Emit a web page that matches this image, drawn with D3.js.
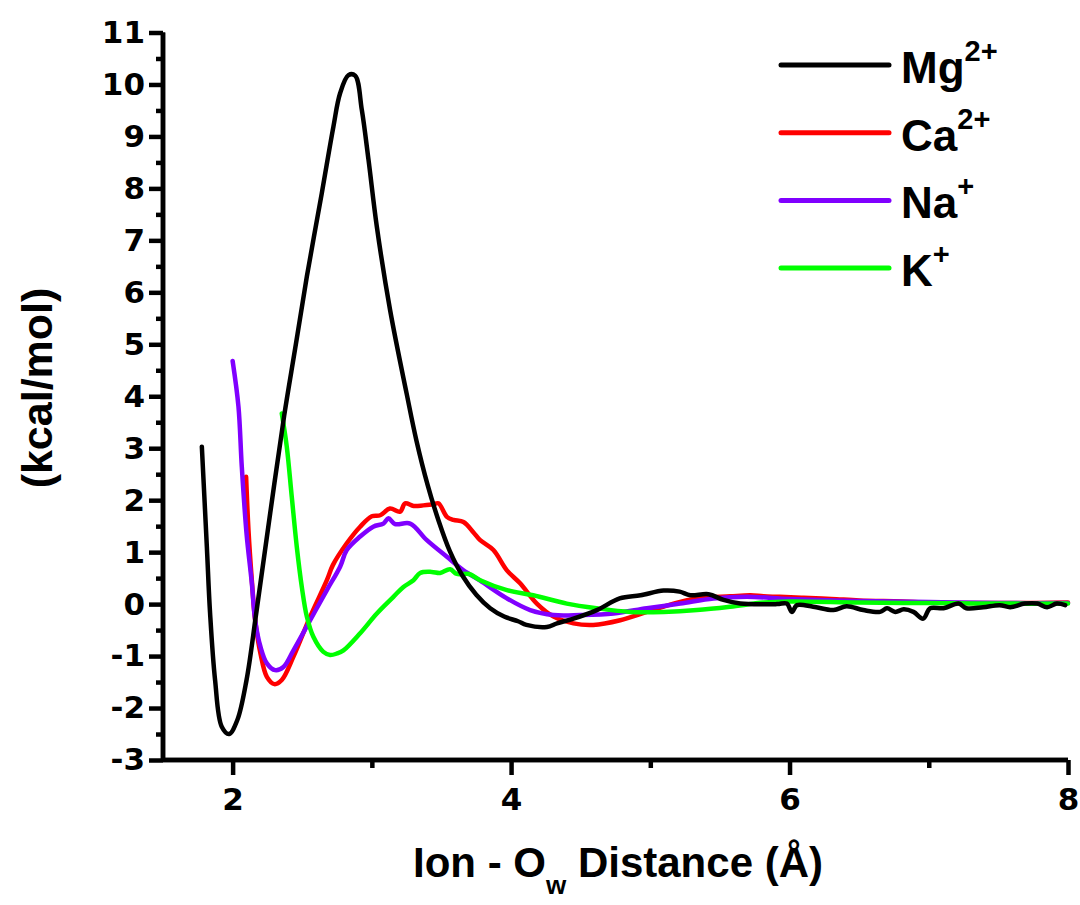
<!DOCTYPE html>
<html>
<head>
<meta charset="utf-8">
<script src="https://cdn.jsdelivr.net/npm/d3@7"></script>
<style>
  body { margin: 0; background: #fff; }
  text { font-family: "Liberation Sans", Arial, sans-serif; font-weight: bold; fill: #000; }
  .curve { fill: none; stroke-width: 4.5; stroke-linejoin: round; stroke-linecap: round; }
</style>
</head>
<body>
<div id="box"></div>
<script>
// ion - water oxygen free energy profiles (kcal/mol)
const mg = [
  [1.779, 3.03], [1.815, 1.10], [1.838, -0.17], [1.874, -1.46], [1.922, -2.36], [1.975, -2.50],
  [2.034, -2.23], [2.10, -1.46], [2.17, -0.17], [2.27, 1.75], [2.37, 3.62], [2.45, 4.93],
  [2.533, 6.30], [2.64, 7.90], [2.724, 9.19], [2.772, 9.83], [2.832, 10.18], [2.88, 10.17],
  [2.928, 9.51], [2.976, 8.55], [3.036, 7.26], [3.131, 5.66], [3.25, 4.05], [3.32, 3.15],
  [3.40, 2.30], [3.48, 1.60], [3.56, 1.02], [3.65, 0.55], [3.75, 0.18], [3.85, -0.08],
  [3.95, -0.24], [4.05, -0.33], [4.11, -0.40], [4.257, -0.44], [4.33, -0.37], [4.448, -0.28],
  [4.616, -0.115], [4.78, 0.11], [4.93, 0.17], [5.095, 0.26], [5.21, 0.24], [5.287, 0.17],
  [5.418, 0.19], [5.526, 0.08], [5.646, 0.01], [5.91, 0.0], [5.98, 0.01], [6.017, -0.15],
  [6.053, -0.02], [6.17, -0.05], [6.316, -0.115], [6.41, -0.04], [6.53, -0.115], [6.65, -0.15],
  [6.70, -0.08], [6.76, -0.15], [6.82, -0.10], [6.89, -0.15], [6.96, -0.28], [7.01, -0.08],
  [7.106, -0.08], [7.214, 0.01], [7.27, -0.08], [7.39, -0.06], [7.51, -0.02], [7.585, -0.06],
  [7.69, 0.01], [7.78, 0.01], [7.85, -0.06], [7.92, 0.01], [7.98, -0.02]
];
const ca = [
  [2.097, 2.45], [2.114, 1.42], [2.138, 0.46], [2.162, -0.31], [2.20, -0.95], [2.246, -1.40],
  [2.30, -1.54], [2.353, -1.46], [2.437, -1.01], [2.557, -0.24], [2.677, 0.46], [2.72, 0.75],
  [2.82, 1.17], [2.916, 1.49], [3.0, 1.69], [3.06, 1.71], [3.13, 1.84], [3.203, 1.78],
  [3.239, 1.94], [3.30, 1.89], [3.37, 1.90], [3.443, 1.92], [3.478, 1.94], [3.539, 1.68],
  [3.586, 1.62], [3.658, 1.58], [3.73, 1.38], [3.778, 1.23], [3.873, 1.04], [3.97, 0.65],
  [4.065, 0.40], [4.185, 0.01], [4.305, -0.24], [4.448, -0.37], [4.59, -0.40], [4.784, -0.31],
  [4.975, -0.15], [5.167, 0.01], [5.335, 0.11], [5.574, 0.15], [5.72, 0.17], [5.813, 0.15],
  [5.93, 0.14], [6.1, 0.12], [6.3, 0.10], [6.5, 0.07], [6.8, 0.05], [7.0, 0.03], [7.3, 0.02],
  [7.6, 0.02], [8.0, 0.03]
];
const na = [
  [2.0, 4.68], [2.042, 3.80], [2.066, 2.64], [2.10, 1.36], [2.138, 0.40], [2.162, -0.31],
  [2.20, -0.82], [2.246, -1.14], [2.305, -1.27], [2.365, -1.21], [2.437, -0.89], [2.557, -0.31],
  [2.677, 0.27], [2.772, 0.72], [2.82, 1.04], [2.916, 1.30], [3.01, 1.49], [3.083, 1.55],
  [3.119, 1.65], [3.167, 1.54], [3.275, 1.55], [3.395, 1.23], [3.539, 0.91], [3.658, 0.65],
  [3.778, 0.45], [3.97, 0.11], [4.137, -0.115], [4.305, -0.21], [4.496, -0.21], [4.736, -0.18],
  [4.975, -0.08], [5.215, 0.01], [5.454, 0.11], [5.694, 0.14], [6.0, 0.10], [6.5, 0.06],
  [7.0, 0.04], [7.5, 0.02], [8.0, 0.02]
];
const k = [
  [2.353, 3.67], [2.389, 3.03], [2.425, 2.06], [2.461, 1.10], [2.497, 0.33], [2.533, -0.24],
  [2.58, -0.63], [2.652, -0.92], [2.70, -0.98], [2.75, -0.95], [2.796, -0.89], [2.916, -0.56],
  [3.036, -0.18], [3.155, 0.14], [3.227, 0.33], [3.299, 0.46], [3.347, 0.60], [3.43, 0.62],
  [3.49, 0.60], [3.562, 0.67], [3.61, 0.58], [3.70, 0.58], [3.778, 0.46], [3.97, 0.27],
  [4.16, 0.17], [4.40, 0.01], [4.616, -0.08], [4.856, -0.15], [5.095, -0.15], [5.335, -0.115],
  [5.574, -0.05], [5.813, 0.03], [6.0, 0.05], [6.5, 0.03], [7.0, 0.02], [7.5, 0.01], [8.0, 0.01]
];

const ions = ['Mg', 'Ca', 'Na', 'K'];
const charges = ['2+', '2+', '+', '+'];
const colors = ['#000000', '#ff0000', '#8000ff', '#00ff00'];
const series = [mg, ca, na, k];

const xMajor = [2, 4, 6, 8];
const xMinor = [3, 5, 7];
const yMajor = d3.range(-3, 12, 1);
const yMinor = d3.range(-2.5, 11, 1);

const W = 1080, H = 905;
const plotL = 163, plotR = 1068, plotT = 32.5, plotB = 760;

const svg = d3.select('#box').append('svg')
    .attr('width', W)
    .attr('height', H);

const x = d3.scaleLinear().domain([1.5, 8]).range([plotL, plotR]);
const y = d3.scaleLinear().domain([-3, 11]).range([plotB, plotT]);

// curves, Mg on top
const line = d3.line()
    .x(d => x(d[0]))
    .y(d => y(d[1]))
    .curve(d3.curveCatmullRom.alpha(0.5));

[1, 2, 3, 0].forEach(i => {
  svg.append('path')
    .datum(series[i])
    .attr('class', 'curve')
    .attr('stroke', colors[i])
    .attr('d', line);
});

// axes (plain hyphen for negatives, like the original)
const fmt = d => String(d);

const yAxis = svg.append('g')
    .attr('class', 'y-axis')
    .attr('transform', `translate(${plotL},0)`)
    .call(d3.axisLeft(y).tickValues(yMajor).tickSize(14).tickPadding(4).tickFormat(fmt));
yAxis.append('g')
    .call(d3.axisLeft(y).tickValues(yMinor).tickSize(7).tickFormat(''));

const xAxis = svg.append('g')
    .attr('class', 'x-axis')
    .attr('transform', `translate(0,${plotB})`)
    .call(d3.axisBottom(x).tickValues(xMajor).tickSize(15).tickPadding(13).tickFormat(fmt));
xAxis.append('g')
    .call(d3.axisBottom(x).tickValues(xMinor).tickSize(8).tickFormat(''));

svg.selectAll('.domain').attr('stroke', '#000').attr('stroke-width', 4.5);
svg.selectAll('.y-axis .domain').attr('d', `M0,${plotT}V${plotB}`);
svg.selectAll('.x-axis .domain').attr('d', `M${plotL},0H${plotR}`);
svg.selectAll('.tick line').attr('stroke', '#000').attr('stroke-width', 4.5);
svg.selectAll('.tick text')
    .attr('font-size', 31)
    .attr('font-family', '"DejaVu Sans", sans-serif')
    .style('font-size', '31px')
    .style('font-family', '"DejaVu Sans", sans-serif')
    .style('font-weight', 'bold')
    .attr('fill', '#000');

// axis titles
const xt = svg.append('text')
    .attr('x', 618)
    .attr('y', 877)
    .attr('text-anchor', 'middle')
    .style('font-size', '42px');
xt.append('tspan').text('Ion - O');
xt.append('tspan').attr('dy', 17).style('font-size', '26px').text('w');
xt.append('tspan').attr('dy', -17).text(' Distance (Å)');

svg.append('text')
    .attr('transform', `translate(52,388) rotate(-90)`)
    .attr('text-anchor', 'middle')
    .style('font-size', '43px')
    .text('(kcal/mol)');

// legend
const lg = svg.append('g').attr('transform', 'translate(781,65)');
ions.forEach((ion, i) => {
  const row = lg.append('g').attr('transform', `translate(0,${i * 67.7})`);
  row.append('line')
    .attr('x1', 0).attr('x2', 108)
    .attr('stroke', colors[i])
    .attr('stroke-width', 5)
    .attr('stroke-linecap', 'round');
  const t = row.append('text')
    .attr('x', 120)
    .attr('y', 18)
    .style('font-size', '44px');
  t.append('tspan').text(ion);
  t.append('tspan').attr('dy', -22).style('font-size', '29px').text(charges[i]);
});
</script>
</body>
</html>
